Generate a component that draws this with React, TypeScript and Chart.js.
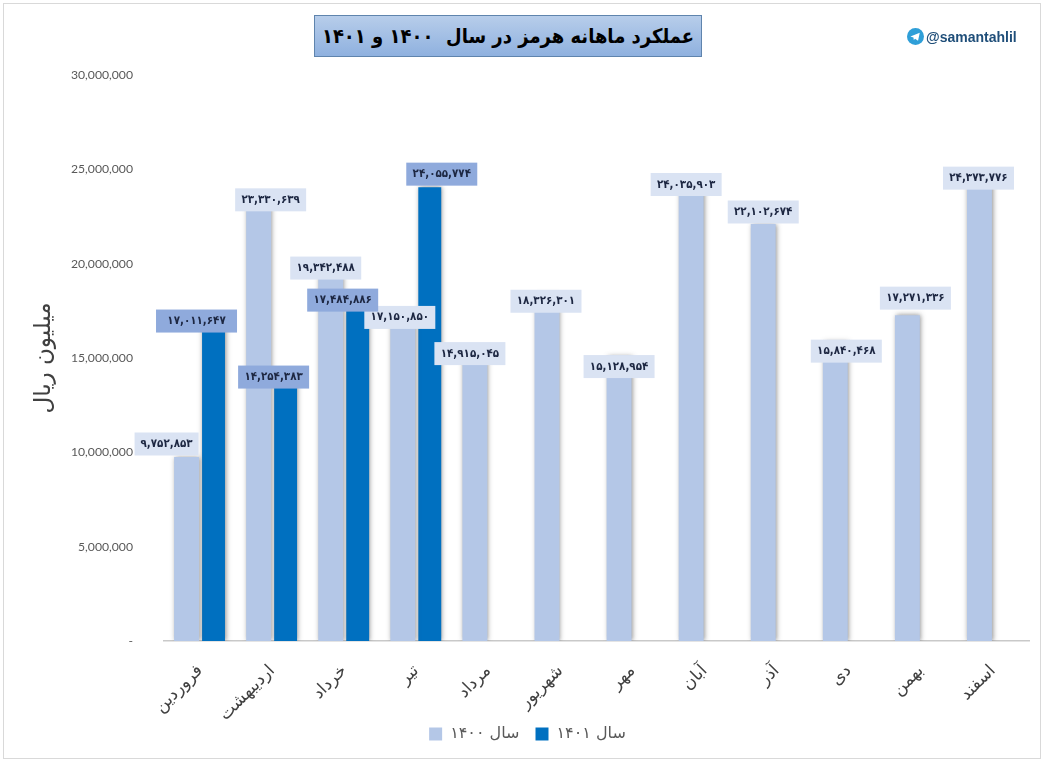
import { useEffect, useRef } from "react"
import { Chart, registerables } from "chart.js"

Chart.register(...registerables)

const months = ["فروردین", "اردیبهشت", "خرداد", "تیر", "مرداد", "شهریور", "مهر", "آبان", "آذر", "دی", "بهمن", "اسفند"]
const series1400 = [9752853, 23330639, 19342488, 17150850, 14915045, 18326301, 15128954, 24035903, 22102674, 15840468, 17271336, 24373776]
const series1401 = [17011647, 14254383, 17484886, 24055774, null, null, null, null, null, null, null, null]
const yTicks = [0, 5000000, 10000000, 15000000, 20000000, 25000000, 30000000]

// hand placed data labels in the original: [dx, dy, width] from the bar top
const labelPlace1400 = [[-20, -13, 64], [12, -1, 71], [-5, -8, 71], [-3, 0, 71], [-5, -6, 71], [-1, 6, 71], [0, 11, 71], [-5, -3, 71], [0, -12, 71], [11, 9, 71], [8, -17, 71], [-1, -3, 71]]
const labelPlace1401 = [[-17, 1, 81], [-12, 5, 71], [-15, -11, 71], [12, -13, 71]]

const persianFont = "'DejaVu Sans'"
const condensedFont = "'DejaVu Sans Condensed', 'DejaVu Sans'"

function toPersianDigits(value: number) {
  return value.toLocaleString("en-US").replace(/\d/g, (d) => "۰۱۲۳۴۵۶۷۸۹"[Number(d)])
}

const barShadow = {
  id: "barShadow",
  beforeDatasetsDraw(chart: Chart) {
    const ctx = chart.ctx
    ctx.save()
    ctx.shadowColor = "rgba(90,90,90,0.7)"
    ctx.shadowBlur = 5
    ctx.shadowOffsetX = 1
    ctx.shadowOffsetY = 0
  },
  afterDatasetsDraw(chart: Chart) {
    chart.ctx.restore()
  },
}

// the long rotated labels run past the axis box into the legend strip
const longLabels = {
  id: "longLabels",
  beforeDraw(chart: Chart) {
    chart.scales.x.bottom = chart.height
  },
}

const valueLabels = {
  id: "valueLabels",
  afterDraw(chart: Chart) {
    const ctx = chart.ctx
    const places = [labelPlace1400, labelPlace1401]
    const fills = ["#dae3f3", "#8faadc"]
    ctx.save()
    ctx.textAlign = "center"
    ctx.textBaseline = "middle"
    ctx.font = `bold 11.5px ${condensedFont}`
    chart.data.datasets.forEach((dataset, d) => {
      chart.getDatasetMeta(d).data.forEach((bar, i) => {
        const value = dataset.data[i] as number | null
        if (value == null) return
        const [dx, dy, w] = places[d][i]
        const cx = bar.x + dx
        const cy = bar.y + dy
        ctx.fillStyle = fills[d]
        ctx.fillRect(cx - w / 2, cy - 11.5, w, 23)
        ctx.fillStyle = "#1d2742"
        ctx.fillText(toPersianDigits(value), cx, cy)
      })
    })
    ctx.restore()
  },
}

export default function App() {
  const chartRef = useRef<HTMLCanvasElement>(null)

  useEffect(() => {
    if (!chartRef.current) return
    const chart = new Chart(chartRef.current, {
      type: "bar",
      data: {
        labels: months,
        datasets: [
          { label: "سال ۱۴۰۰", data: series1400, backgroundColor: "#b4c7e7", barPercentage: 0.925, categoryPercentage: 0.748 },
          { label: "سال ۱۴۰۱", data: series1401, backgroundColor: "#0070c0", barPercentage: 0.85, categoryPercentage: 0.748 },
        ],
      },
      options: {
        responsive: true,
        maintainAspectRatio: false,
        animation: false,
        layout: { padding: { top: 75, right: 16, left: 26, bottom: 12 } },
        plugins: {
          title: { display: false },
          tooltip: { enabled: false },
          legend: {
            position: "bottom",
            labels: {
              boxWidth: 13,
              boxHeight: 13,
              color: "#595959",
              padding: 16,
              font: { family: persianFont, size: 16 },
            },
          },
        },
        scales: {
          x: {
            grid: { display: false },
            border: { display: true, color: "#c9c9c9", width: 1.5 },
            afterFit(axis) {
              axis.height = 69
            },
            ticks: {
              autoSkip: false,
              minRotation: 45,
              maxRotation: 45,
              padding: 12,
              color: "#404040",
              font: { family: persianFont, size: 17 },
            },
          },
          y: {
            min: 0,
            max: 30000000,
            afterBuildTicks(axis) {
              axis.ticks = yTicks.map((value) => ({ value }))
            },
            afterFit(axis) {
              axis.width = 138
            },
            grid: { display: false },
            border: { display: false },
            title: {
              display: true,
              text: "میلیون ریال",
              color: "#404040",
              font: { family: persianFont, size: 23 },
            },
            ticks: {
              padding: 23,
              color: "#595959",
              font: { family: "Lato", size: 12.2 },
              callback: (value) => (value === 0 ? "-" : Number(value).toLocaleString("en-US")),
            },
          },
        },
      },
      plugins: [barShadow, longLabels, valueLabels],
    })
    return () => chart.destroy()
  }, [])

  return (
    <div style={{ position: "absolute", left: 0, top: 0, width: 1045, height: 764, background: "#fff", overflow: "hidden" }}>
      <canvas ref={chartRef} />
      <div style={{ position: "absolute", left: 3, top: 3, width: 1036, height: 754, border: "1px solid #d9d9d9", pointerEvents: "none" }} />
      <div
        dir="rtl"
        style={{
          position: "absolute",
          left: 314,
          top: 15,
          width: 386,
          height: 40,
          lineHeight: "40px",
          textAlign: "center",
          whiteSpace: "pre",
          background: "linear-gradient(#b7cdea, #8fb1df)",
          border: "1px solid #5f84ad",
          color: "#000",
          fontFamily: condensedFont,
          fontWeight: "bold",
          fontSize: 20,
        }}
      >
        عملکرد ماهانه هرمز در سال  ۱۴۰۰ و ۱۴۰۱
      </div>
      <div style={{ position: "absolute", left: 907, top: 28, display: "flex", alignItems: "center", gap: 2, color: "#1f4e79", fontFamily: "'Liberation Sans'", fontWeight: "bold", fontSize: 14 }}>
        <svg width="17" height="17" viewBox="0 0 20 20">
          <circle cx="10" cy="10" r="10" fill="#2f9fd8" />
          <path d="M4 10 L15 5.5 L13 15 L9.5 12.5 L8 14 L7.6 11.2 Z" fill="#fff" />
        </svg>
        <span>@samantahlil</span>
      </div>
    </div>
  )
}
